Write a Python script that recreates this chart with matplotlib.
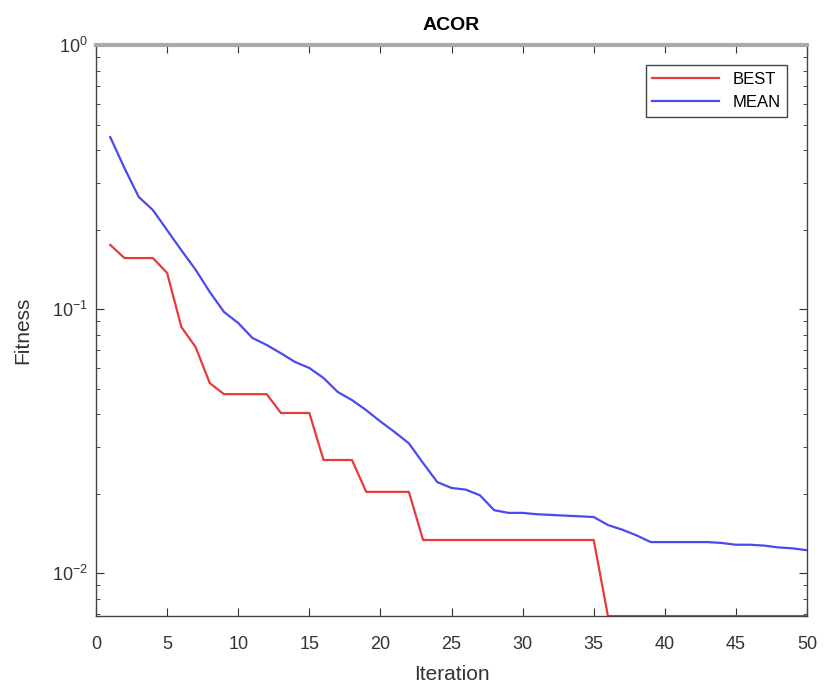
import matplotlib
matplotlib.use('Agg')
import matplotlib.pyplot as plt
from matplotlib.ticker import LogLocator

iterations = list(range(1, 51))

best = [0.175, 0.156, 0.156, 0.156, 0.137, 0.0855, 0.0718, 0.0524, 0.0476, 0.0476,
        0.0476, 0.0476, 0.0404, 0.0404, 0.0404, 0.0268, 0.0268, 0.0268, 0.0203, 0.0203,
        0.0203, 0.0203, 0.01334, 0.01334, 0.01334, 0.01334, 0.01334, 0.01334, 0.01334, 0.01334,
        0.01334, 0.01334, 0.01334, 0.01334, 0.01334, 0.00687, 0.00687, 0.00687, 0.00687, 0.00687,
        0.00687, 0.00687, 0.00687, 0.00687, 0.00687, 0.00687, 0.00687, 0.00687, 0.00687, 0.00687]

mean = [0.448, 0.342, 0.266, 0.237, 0.199, 0.167, 0.141, 0.116, 0.0975, 0.0885,
        0.0777, 0.0731, 0.068, 0.063, 0.0598, 0.0548, 0.0485, 0.0452, 0.0414, 0.0375,
        0.0342, 0.031, 0.0261, 0.0221, 0.021, 0.0207, 0.0197, 0.0173, 0.0169, 0.0169,
        0.0167, 0.0166, 0.0165, 0.0164, 0.0163, 0.0152, 0.0146, 0.0139, 0.0131, 0.0131,
        0.0131, 0.0131, 0.0131, 0.0130, 0.0128, 0.0128, 0.0127, 0.0125, 0.0124, 0.0122]

plt.rcParams['font.family'] = ['Liberation Sans', 'DejaVu Sans']

fig = plt.figure(figsize=(8.25, 6.93), dpi=100)
ax = fig.add_axes([0.1164, 0.111, 0.8618, 0.824])

ax.semilogy(iterations, best, color='#e83a3a', lw=1.6, label='BEST')
ax.semilogy(iterations, mean, color='#4a4af0', lw=1.6, label='MEAN')

ax.set_xlim(0, 50)
ax.set_ylim(0.00687, 1)
ax.set_xticks(range(0, 51, 5))
ax.yaxis.set_major_locator(LogLocator(base=10, numticks=10))
ax.yaxis.set_minor_locator(LogLocator(base=10, subs=range(2, 10), numticks=20))

ax.tick_params(which='both', direction='in', top=True, right=True, colors='#333333',
               labelsize=13, labelcolor='#333333')
ax.tick_params(which='major', length=6)
ax.tick_params(which='minor', length=3)
ax.tick_params(axis='x', pad=14)
ax.tick_params(axis='y', pad=6)
for s in ax.spines.values():
    s.set_color('#444444')
    s.set_linewidth(1.0)
ax.spines['top'].set_color('#aaaaaa')
ax.spines['top'].set_linewidth(3)

ax.set_xlabel('Iteration', fontsize=15, color='#333333', labelpad=9)
ax.set_ylabel('Fitness', fontsize=15, color='#333333', labelpad=14)
ax.set_title('ACOR', fontsize=14, fontweight='bold', pad=11)

leg = ax.legend(loc='upper right', fontsize=12, fancybox=False, framealpha=1,
                edgecolor='#444444', handlelength=4, borderaxespad=1.2)
leg.get_frame().set_linewidth(1.0)

fig.savefig('out.png', dpi=100)
